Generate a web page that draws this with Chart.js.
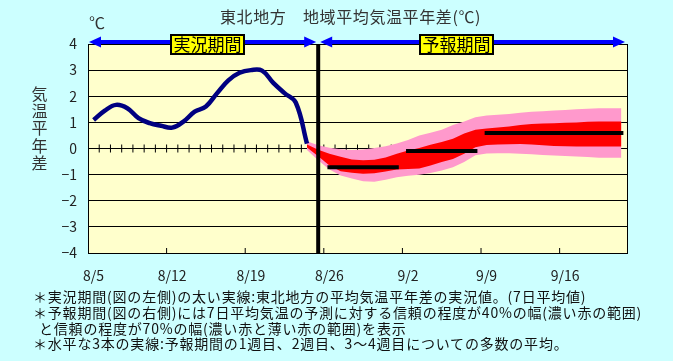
<!DOCTYPE html>
<html lang="ja">
<head>
<meta charset="utf-8">
<script src="https://cdn.jsdelivr.net/npm/chart.js@4.4.1/dist/chart.umd.min.js"></script>
<style>
  html, body { margin: 0; padding: 0; background: #ccffff; }
  #wrap { position: relative; width: 673px; height: 361px; overflow: hidden;
    font-family: "Noto Sans CJK JP", "Noto Sans", sans-serif; color: #222; }
  canvas { position: absolute; left: 0; top: 0; }
  .txt { position: absolute; white-space: nowrap; }
  .title { left: 220px; top: 6px; font-size: 16px; line-height: 20px; color: #333; letter-spacing: 0.6px; }
  .unit { left: 89px; top: 12px; font-size: 16px; line-height: 20px; color: #333; }
  .ylab { left: 31px; top: 85px; width: 17px; font-size: 16px; line-height: 17.2px; color: #333; white-space: normal; text-align: center; }
  .box { top: 34px; height: 21px; width: 75px; box-sizing: border-box; border: 2px solid #000;
    background: #ffff00; font-size: 17px; line-height: 16px; text-align: center; color: #000; }
  .note { left: 33px; font-size: 14px; line-height: 16px; color: #111; letter-spacing: 0.8px; }
</style>
</head>
<body>
<div id="wrap">
  <canvas id="chart" width="673" height="361"></canvas>
  <div class="txt title">東北地方　地域平均気温平年差(℃)</div>
  <div class="txt unit">℃</div>
  <div class="txt ylab">気温平年差</div>
  <div class="txt box" style="left:170px">実況期間</div>
  <div class="txt box" style="left:419px">予報期間</div>
  <div class="txt note" style="top:288px">＊実況期間(図の左側)の太い実線:東北地方の平均気温平年差の実況値。(7日平均値)</div>
  <div class="txt note" style="top:304px">＊予報期間(図の右側)には7日平均気温の予測に対する信頼の程度が40%の幅(濃い赤の範囲)</div>
  <div class="txt note" style="top:320px; left:39px">と信頼の程度が70%の幅(濃い赤と薄い赤の範囲)を表示</div>
  <div class="txt note" style="top:335px">＊水平な3本の実線:予報期間の1週目、2週目、3～4週目についての多数の平均。</div>
</div>
<script>
// x axis: days counted from 8/5 (0) to 9/22 (48), a day's value sits in its middle
const xTickDays = [0, 7, 14, 21, 28, 35, 42];
const xTickLabels = ['8/5', '8/12', '8/19', '8/26', '9/2', '9/9', '9/16'];
const yTicks = [-4, -3, -2, -1, 0, 1, 2, 3, 4];

// observed 7-day mean anomaly, 8/5 .. 8/24
const observed = [1.09, 1.45, 1.67, 1.54, 1.16, 0.97, 0.87, 0.80, 1.03, 1.41,
  1.61, 2.12, 2.61, 2.90, 3.00, 2.98, 2.51, 2.12, 1.76, 0.19];

// forecast ranges, 8/24 .. 9/21
const bandStart = 19;
const upper70 = [0.28, 0.12, 0.03, -0.03, -0.06, -0.04, 0.02, 0.09, 0.19, 0.33,
  0.50, 0.60, 0.72, 0.90, 1.03, 1.20, 1.26, 1.29, 1.32, 1.37,
  1.41, 1.43, 1.45, 1.47, 1.50, 1.52, 1.54, 1.54, 1.54];
const upper40 = [0.15, -0.05, -0.20, -0.32, -0.42, -0.45, -0.43, -0.34, -0.20, -0.08,
  0.02, 0.14, 0.25, 0.37, 0.57, 0.72, 0.77, 0.80, 0.84, 0.90,
  0.94, 0.96, 0.97, 0.99, 1.00, 1.02, 1.03, 1.03, 1.03];
const lower40 = [0.04, -0.30, -0.65, -0.87, -0.93, -0.97, -0.95, -0.88, -0.80, -0.78,
  -0.77, -0.65, -0.52, -0.40, -0.20, 0.05, 0.13, 0.15, 0.16, 0.17,
  0.15, 0.12, 0.10, 0.09, 0.08, 0.08, 0.08, 0.08, 0.08];
const lower70 = [-0.06, -0.45, -0.80, -1.03, -1.15, -1.25, -1.27, -1.20, -1.10, -1.04,
  -1.00, -0.94, -0.84, -0.72, -0.52, -0.26, -0.19, -0.18, -0.18, -0.20,
  -0.22, -0.25, -0.27, -0.29, -0.31, -0.33, -0.35, -0.35, -0.35];

// week 1, week 2, weeks 3-4 ensemble means (first day, last day, value)
const weekFirst = [21, 28, 35];
const weekLast = [27, 34, 47];
const weekMean = [-0.72, -0.10, 0.59];

const forecastLineX = 20.5;
const minorTickDays = [1, 2, 3, 4, 5, 6, 7, 8, 9, 10, 11, 12, 13, 14, 15, 16, 17, 18, 19, 20,
  21, 22, 23, 24, 25, 26, 27];

const mid = d => d + 0.5;
const pts = (arr, start) => arr.map((v, i) => ({ x: mid(start + i), y: v }));

const plotBg = {
  id: 'plotBg',
  beforeDraw(chart) {
    const { ctx, chartArea: a } = chart;
    ctx.save();
    ctx.fillStyle = '#ffffcc';
    ctx.fillRect(a.left, a.top, a.right - a.left, a.bottom - a.top);
    ctx.restore();
  },
  afterDatasetsDraw(chart) {
    const { ctx, chartArea: a } = chart;
    ctx.save();
    ctx.strokeStyle = '#000';
    ctx.lineWidth = 1;
    ctx.strokeRect(Math.round(a.left) + 0.5, Math.round(a.top) + 0.5,
      Math.round(a.right - a.left), Math.round(a.bottom - a.top));
    ctx.restore();
  }
};

// period arrows over the plot
const periodArrows = {
  id: 'periodArrows',
  afterDraw(chart) {
    const { ctx, chartArea: a } = chart;
    const x = chart.scales.x;
    const y = a.top - 2;
    const split = x.getPixelForValue(forecastLineX);
    const arrow = (x1, x2) => {
      ctx.beginPath();
      ctx.moveTo(x1 + 10, y);
      ctx.lineTo(x2 - 10, y);
      ctx.stroke();
      [[x1, 1], [x2, -1]].forEach(([tip, dir]) => {
        ctx.beginPath();
        ctx.moveTo(tip, y);
        ctx.lineTo(tip + dir * 12, y - 5.5);
        ctx.lineTo(tip + dir * 12, y + 5.5);
        ctx.closePath();
        ctx.fill();
      });
    };
    ctx.save();
    ctx.strokeStyle = '#0000ff';
    ctx.fillStyle = '#0000ff';
    ctx.lineWidth = 4;
    arrow(x.getPixelForValue(0) + 1, split - 2);
    arrow(split + 2, x.getPixelForValue(48) - 2);
    ctx.restore();
  }
};

const datasets = [
  {
    label: 'observed', data: pts(observed, 0), borderColor: '#000080', borderWidth: 4.5,
    tension: 0.4, pointRadius: 0, order: 2
  },
  {
    label: 'forecast start', data: [{ x: forecastLineX, y: -4 }, { x: forecastLineX, y: 4 }],
    borderColor: '#000', borderWidth: 4, pointRadius: 0, order: 1
  },
  { label: 'lower70', data: pts(lower70, bandStart), borderWidth: 0, pointRadius: 0, order: 8 },
  {
    label: 'upper70', data: pts(upper70, bandStart), borderWidth: 0, pointRadius: 0,
    fill: '-1', backgroundColor: '#ff99cc', order: 8
  },
  { label: 'lower40', data: pts(lower40, bandStart), borderWidth: 0, pointRadius: 0, order: 6 },
  {
    label: 'upper40', data: pts(upper40, bandStart), borderWidth: 0, pointRadius: 0,
    fill: '-1', backgroundColor: '#ff0000', order: 6
  },
  {
    label: 'day ticks', data: minorTickDays.map(d => ({ x: d, y: 0 })), showLine: false,
    pointStyle: 'line', rotation: 90, pointRadius: 4, borderColor: '#000', borderWidth: 1, order: 10
  },
  {
    label: 'axis ticks', data: xTickDays.map(d => ({ x: d, y: -4 })), showLine: false,
    pointStyle: 'line', rotation: 90, pointRadius: 5, borderColor: '#000', borderWidth: 1,
    clip: 0, order: 10
  }
];
weekMean.forEach((v, i) => {
  datasets.push({
    label: 'week ' + (i + 1),
    data: [{ x: mid(weekFirst[i]), y: v }, { x: mid(weekLast[i]), y: v }],
    borderColor: '#000', borderWidth: 4, borderCapStyle: 'square', pointRadius: 0, order: 4
  });
});

new Chart(document.getElementById('chart'), {
  type: 'line',
  data: { datasets },
  plugins: [plotBg, periodArrows],
  options: {
    responsive: false,
    animation: false,
    events: [],
    layout: { padding: { top: 44, right: 46, left: 0, bottom: 0 } },
    plugins: { legend: { display: false }, tooltip: { enabled: false } },
    scales: {
      x: {
        type: 'linear', min: 0, max: 48,
        afterBuildTicks: s => { s.ticks = xTickDays.map(v => ({ value: v })); },
        afterFit: s => { s.height = 108; },
        grid: { display: false, drawTicks: false },
        border: { display: true, color: '#000', width: 1 },
        ticks: {
          autoSkip: false, maxRotation: 0, padding: 14, labelOffset: 5.6,
          color: '#222', font: { family: '"Noto Sans CJK JP", sans-serif', size: 14 },
          callback: v => xTickLabels[xTickDays.indexOf(v)]
        }
      },
      y: {
        min: -4, max: 4,
        afterBuildTicks: s => { s.ticks = yTicks.map(v => ({ value: v })); },
        afterFit: s => { s.width = 88; },
        grid: { color: '#000', lineWidth: 1, drawTicks: false },
        border: { display: true, color: '#000', width: 1 },
        ticks: {
          padding: 11, color: '#222', font: { family: '"Noto Sans CJK JP", sans-serif', size: 14 },
          callback: v => String(v).replace('-', '−')
        }
      }
    }
  }
});
</script>
</body>
</html>
